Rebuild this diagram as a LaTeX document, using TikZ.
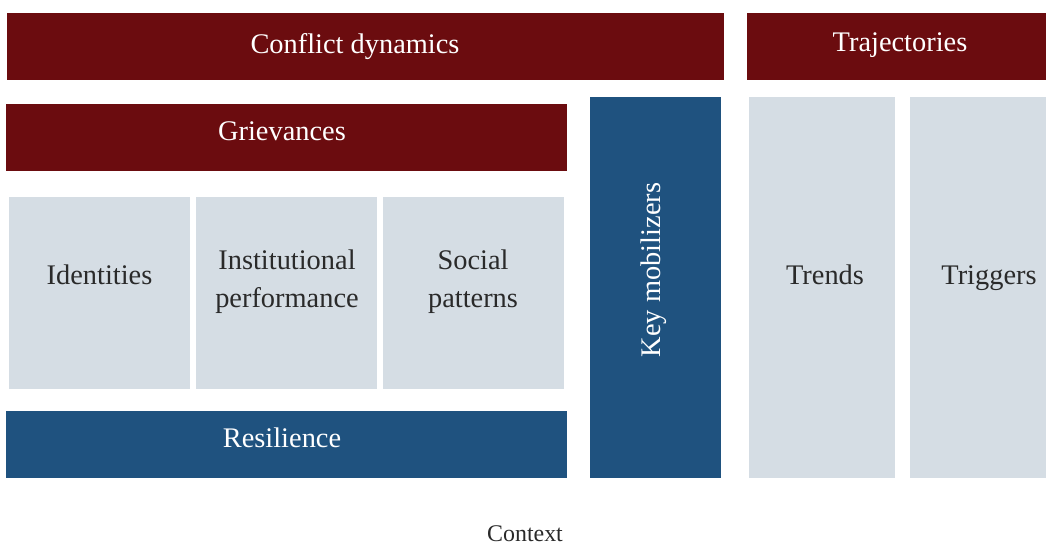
\documentclass[tikz,border=0pt]{standalone}
\usepackage{fontspec}
\setmainfont{Liberation Serif}
\definecolor{darkred}{HTML}{6B0C0F}
\definecolor{steel}{HTML}{1F527F}
\definecolor{pale}{HTML}{D5DDE4}
\definecolor{ink}{HTML}{2A2A2A}
\begin{document}
\begin{tikzpicture}[x=1bp,y=-1bp,
  every node/.style={inner sep=0pt, outer sep=0pt,
    font=\fontsize{28.5}{38}\selectfont},
  redbar/.style={fill=darkred, anchor=north west, text=white},
  bluebar/.style={fill=steel, anchor=north west, text=white},
  palebox/.style={fill=pale, anchor=north west},
  title/.style={text=white, anchor=base},
  label/.style={text=ink, align=center}]
\useasboundingbox (0,0) rectangle (1046,545);

% top row
\node[redbar, minimum width=717bp, minimum height=67bp] (conflict) at (7,13) {};
\node[title] (conflicttext) at (355,54) {Conflict dynamics};
\node[redbar, minimum width=310bp, minimum height=67bp] (traj) at (747,13) {};
\node[title] (trajtext) at (900,52) {Trajectories};

% grievances block
\node[redbar, minimum width=561bp, minimum height=67bp] (griev) at (6,104) {};
\node[title] (grievtext) at (282,141) {Grievances};
\node[palebox, minimum width=181bp, minimum height=192bp] (identbox) at (9,197) {};
\node[palebox, minimum width=181bp, minimum height=192bp] (instbox) at (196,197) {};
\node[palebox, minimum width=181bp, minimum height=192bp] (socbox) at (383,197) {};
\node[label, anchor=base] (ident) at (99.5,285) {Identities};
\node[label] (inst) at (287,282) {Institutional\\performance};
\node[label] (soc) at (473,282) {Social\\patterns};
\node[bluebar, minimum width=561bp, minimum height=67bp] (resil) at (6,411) {};
\node[title] (resiltext) at (282,447) {Resilience};

% mobilizers and trajectories columns
\node[bluebar, minimum width=131bp, minimum height=381bp] (mob) at (590,97) {};
\node[text=white, rotate=90, anchor=base] (mobtext) at (660,270) {Key mobilizers};
\node[palebox, minimum width=146bp, minimum height=381bp] (trendbox) at (749,97) {};
\node[palebox, minimum width=146bp, minimum height=381bp] (trigbox) at (910,97) {};
\node[label, anchor=base] (trends) at (825,285) {Trends};
\node[label, anchor=base] (triggers) at (989,285) {Triggers};

\node[label, font=\fontsize{24}{30}\selectfont] (context) at (525,534) {Context};
\end{tikzpicture}
\end{document}
